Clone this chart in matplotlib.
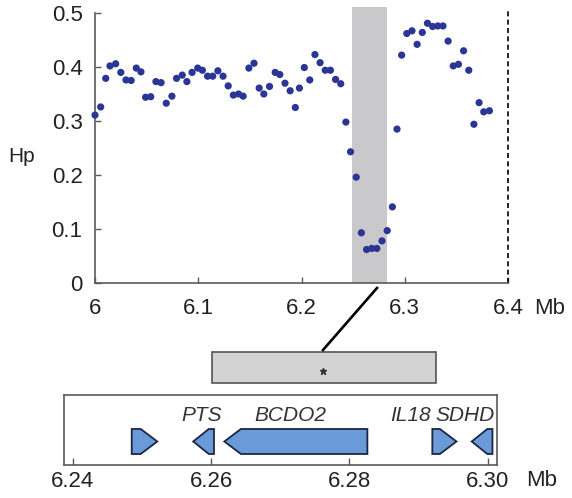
import matplotlib
matplotlib.use("Agg")
import matplotlib.pyplot as plt
from matplotlib.patches import Polygon, Rectangle
from matplotlib.lines import Line2D

plt.rcParams["font.family"] = ["Liberation Sans", "DejaVu Sans"]

# Hp along the chromosome (Mb)
pos = [6.000, 6.0055, 6.0104, 6.0145, 6.020, 6.025, 6.030, 6.035, 6.040, 6.0445,
       6.049, 6.054, 6.059, 6.064, 6.069, 6.0745, 6.079, 6.0845, 6.089, 6.094,
       6.0995, 6.104, 6.109, 6.114, 6.119, 6.124, 6.129, 6.134, 6.139, 6.1435,
       6.149, 6.154, 6.159, 6.1635, 6.169, 6.1745, 6.179, 6.184, 6.189, 6.194,
       6.198, 6.2027, 6.208, 6.213, 6.218, 6.223, 6.228, 6.233, 6.238, 6.243,
       6.2475, 6.253, 6.258, 6.263, 6.268, 6.273, 6.278, 6.283, 6.288, 6.2925,
       6.297, 6.302, 6.307, 6.312, 6.317, 6.322, 6.327, 6.332, 6.337, 6.342,
       6.347, 6.352, 6.357, 6.362, 6.367, 6.372, 6.3765, 6.382]
hp = [0.311, 0.326, 0.379, 0.402, 0.406, 0.390, 0.376, 0.375, 0.398, 0.391,
      0.344, 0.345, 0.373, 0.371, 0.333, 0.346, 0.379, 0.385, 0.373, 0.390,
      0.398, 0.394, 0.383, 0.383, 0.393, 0.383, 0.365, 0.348, 0.350, 0.346,
      0.398, 0.407, 0.361, 0.350, 0.364, 0.390, 0.386, 0.370, 0.356, 0.325,
      0.361, 0.399, 0.376, 0.423, 0.408, 0.394, 0.394, 0.377, 0.369, 0.298,
      0.243, 0.196, 0.093, 0.062, 0.064, 0.064, 0.078, 0.097, 0.141, 0.285,
      0.422, 0.462, 0.467, 0.442, 0.464, 0.481, 0.475, 0.476, 0.476, 0.448,
      0.402, 0.405, 0.430, 0.394, 0.294, 0.334, 0.317, 0.319]

# sweep window
win_start = 6.2486
win_end = 6.2825

main_xticks = [6.0, 6.1, 6.2, 6.3, 6.4]
main_yticks = [0, 0.1, 0.2, 0.3, 0.4, 0.5]

# genes in the window
gene_start = [6.2485, 6.2574, 6.2619, 6.2920, 6.2977]
gene_end = [6.2522, 6.2604, 6.2826, 6.2955, 6.3007]
gene_strand = [1, -1, -1, 1, -1]
gene_names = ["PTS", "BCDO2", "IL18", "SDHD"]
name_pos = [6.2586, 6.2714, 6.2889, 6.2968]
gene_xticks = [6.24, 6.26, 6.28, 6.30]
gene_xlabels = ["6.24", "6.26", "6.28", "6.30"]

spine_col = "#5a5a5a"
dot_col = "#2b3595"

fig = plt.figure(figsize=(5.72, 4.98), dpi=100)

# top panel
ax = fig.add_axes([0.1661, 0.4317, 0.722, 0.5422])
ax.axvspan(win_start, win_end, ymin=0, ymax=1.022, color="#c9c9cb", lw=0,
           clip_on=False, zorder=0)
ax.scatter(pos, hp, s=27, color=dot_col, edgecolors="none", zorder=3,
           clip_on=False)
ax.plot([6.4, 6.4], [0, 0.506], color="black", lw=1.2,
        linestyle=(0, (3, 2)), clip_on=False)
ax.set_xlim(6.0, 6.4)
ax.set_ylim(0, 0.5)
ax.set_xticks(main_xticks)
ax.set_xticklabels(["%g" % t for t in main_xticks])
ax.set_yticks(main_yticks)
ax.set_yticklabels(["%g" % t for t in main_yticks])
for s in ["top", "right"]:
    ax.spines[s].set_visible(False)
for s in ["left", "bottom"]:
    ax.spines[s].set_color(spine_col)
    ax.spines[s].set_linewidth(1.2)
ax.tick_params(direction="in", length=4, width=1, color=spine_col,
               labelsize=16, labelcolor="#222222")
ax.tick_params(axis="x", pad=11)
ax.tick_params(axis="y", pad=9)
fig.text(22 / 572, 1 - 157 / 498, "Hp", fontsize=15, ha="center",
         va="center", color="#222222")
fig.text(0.9615, 0.3815, "Mb", fontsize=16, ha="center", va="center",
         color="#222222")

# zoom line and window box
fig.add_artist(Line2D([0.6591, 0.5647], [0.4217, 0.2972], color="black",
                      lw=1.9, transform=fig.transFigure))
fig.add_artist(Rectangle((0.3712, 0.2303), 0.3905, 0.0622,
                         transform=fig.transFigure, facecolor="#d2d2d3",
                         edgecolor="#555555", lw=1.2))
fig.add_artist(Line2D([0.5652], [0.2557], marker="*", markersize=5,
                      color="#333333", lw=0, transform=fig.transFigure))

# gene panel
gx = fig.add_axes([0.1119, 0.0663, 0.7575, 0.1406])
gx.set_xlim(6.2387, 6.3014)
gx.set_ylim(0, 1)
y0, y1 = 0.157, 0.514
ym = (y0 + y1) / 2
for s, e, d in zip(gene_start, gene_end, gene_strand):
    h = min(0.0024, 0.75 * (e - s))
    if d > 0:
        pts = [(s, y0), (e - h, y0), (e, ym), (e - h, y1), (s, y1)]
    else:
        pts = [(e, y0), (s + h, y0), (s, ym), (s + h, y1), (e, y1)]
    gx.add_patch(Polygon(pts, closed=True, facecolor="#6a9ad8",
                         edgecolor="#1b2644", lw=1.3, joinstyle="miter"))
for name, x in zip(gene_names, name_pos):
    gx.text(x, 0.70, name, fontsize=15, style="italic", ha="center",
            va="center", color="#333333")
gx.set_xticks(gene_xticks)
gx.set_xticklabels(gene_xlabels)
gx.set_yticks([])
for s in gx.spines.values():
    s.set_color(spine_col)
    s.set_linewidth(1.2)
gx.tick_params(axis="x", direction="in", length=5, width=1, color=spine_col,
               labelsize=16, labelcolor="#222222", pad=4)
fig.text(0.9476, 0.0361, "Mb", fontsize=16, ha="center", va="center",
         color="#222222")

fig.savefig("out.png", dpi=100)
